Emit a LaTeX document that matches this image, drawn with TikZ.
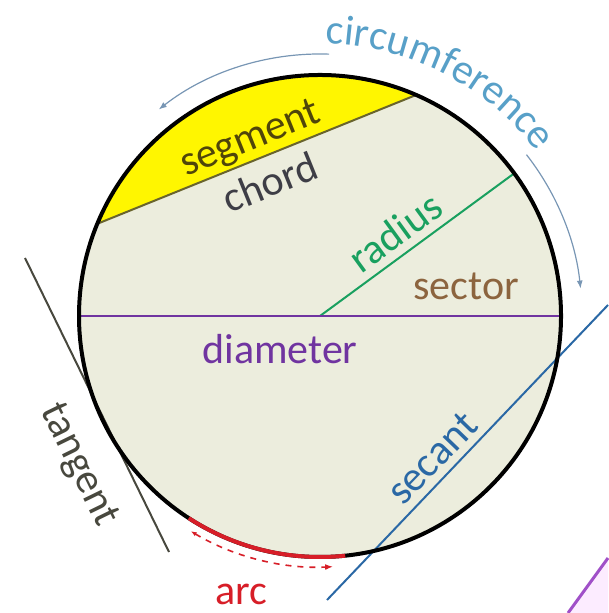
\documentclass[tikz,border=0pt]{standalone}
\usepackage{fontspec}
\setmainfont{Carlito}
\usetikzlibrary{arrows.meta,calc,decorations.text}
\definecolor{discfill}{RGB}{236,237,221}
\definecolor{segyellow}{RGB}{255,246,0}
\definecolor{chordcol}{RGB}{105,100,45}
\definecolor{chordtext}{RGB}{62,62,70}
\definecolor{segtext}{RGB}{80,70,10}
\definecolor{radiuscol}{RGB}{25,160,95}
\definecolor{sectorcol}{RGB}{140,100,62}
\definecolor{diamcol}{RGB}{112,52,160}
\definecolor{tancol}{RGB}{72,72,62}
\definecolor{seccol}{RGB}{42,104,165}
\definecolor{arccol}{RGB}{215,30,40}
\definecolor{circtext}{RGB}{88,160,200}
\definecolor{circarrow}{RGB}{120,150,180}
\definecolor{cornerfill}{RGB}{252,236,255}
\definecolor{cornerline}{RGB}{160,80,200}

\begin{document}
\begin{tikzpicture}[x=0.5pt,y=0.5pt,>=Latex,
    lbl/.style={font=\fontsize{21}{25}\selectfont,inner sep=0pt}]
  \useasboundingbox (0,0) rectangle (608,613);

  % Centre of the disc and the points that sit on (or near) its rim.
  \coordinate (C) at (320,297);
  \coordinate (S1) at ([shift={(157.5:241)}]C); % chord, left end
  \coordinate (S2) at ([shift={(66.5:241)}]C);  % chord, right end
  \coordinate (R)  at ([shift={(36.3:241)}]C);  % radius end
  \coordinate (D1) at ([shift={(180:241)}]C);
  \coordinate (D2) at ([shift={(0:241)}]C);
  \coordinate (T1) at (25,355);   % tangent
  \coordinate (T2) at (169,61);
  \coordinate (E1) at (327,13);   % secant
  \coordinate (E2) at (608,308);

  % corner of the next shape, bottom right
  \fill[cornerfill] (568,0) -- (608,55) -- (608,0) -- cycle;
  \draw[cornerline,line width=1.5pt] (568,0) -- (608,55);

  % disc and yellow segment
  \fill[discfill] (C) circle[radius=241];
  \fill[segyellow] (S1) arc[start angle=157.5,end angle=66.5,radius=241] -- cycle;

  \draw[chordcol,line width=1pt] (S1) -- (S2);
  \draw[radiuscol,line width=1pt] (C) -- (R);
  \draw[diamcol,line width=1.3pt] (D1) -- (D2);
  \draw[tancol,line width=1pt] (T1) -- (T2);
  \draw[seccol,line width=1pt] (E1) -- (E2);

  \draw[line width=2pt] (C) circle[radius=241];
  \draw[arccol,line width=2pt] ([shift={(237:241)}]C)
    arc[start angle=237,end angle=276,radius=241];

  % arc marker below the rim
  \draw[arccol,dashed,line width=0.8pt,{Latex[length=3pt]}-{Latex[length=4pt]}]
    ([shift={(239:251)}]C) arc[start angle=239,end angle=273,radius=251];

  % circumference arrows and label
  \draw[circarrow,line width=0.6pt,-{Latex[length=4pt]}] ([shift={(88:262)}]C)
    arc[start angle=88,end angle=128,radius=262];
  \draw[circarrow,line width=0.6pt,-{Latex[length=4pt]}] ([shift={(38:262)}]C)
    arc[start angle=38,end angle=6,radius=262];
  \path[decorate,decoration={text along path,text align=center,
      text={|\fontsize{21}{25}\selectfont\color{circtext}|circumference}}]
    ([shift={(95:272)}]C) arc[start angle=95,end angle=31,radius=272];

  % labels
  \node[lbl,text=segtext,rotate=22] (seglbl) at (251,473) {segment};
  \node[lbl,text=chordtext,rotate=22] (chordlbl) at (270,431) {chord};
  \node[lbl,text=radiuscol,rotate=36] (radlbl) at (395,381) {radius};
  \node[lbl,text=sectorcol,anchor=base] (seclbl) at (466,313) {sector};
  \node[lbl,text=diamcol,anchor=base] (diamlbl) at (280,249) {diameter};
  \node[lbl,text=tancol,rotate=-64] (tanlbl) at (78,148) {tangent};
  \node[lbl,text=seccol,rotate=46] (secantlbl) at (432,155) {secant};
  \node[lbl,text=arccol,anchor=base] (arclbl) at (241,8) {arc};
\end{tikzpicture}
\end{document}
